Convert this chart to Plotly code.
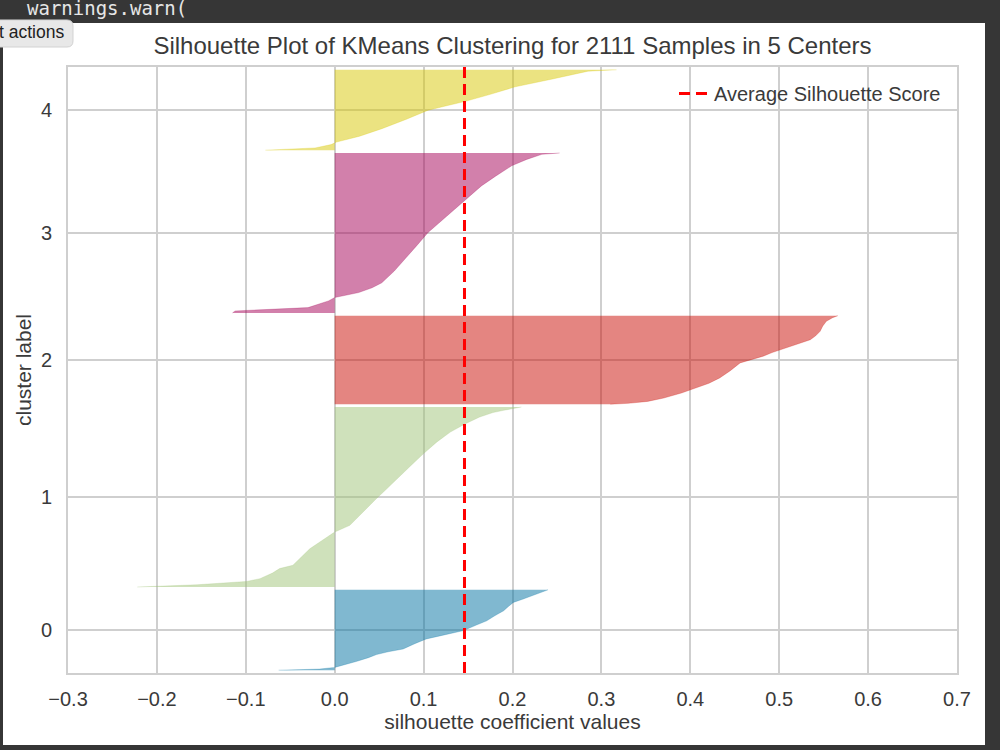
import plotly.graph_objects as go

# ---------------- data ----------------
cluster_labels = ["0", "1", "2", "3", "4"]
cluster_sizes = [288, 645, 317, 573, 288]
cluster_colors = ["#0272a2", "#9fc377", "#ca0b03", "#a50258", "#d7c703"]

# silhouette profile of each cluster: rank within the sorted cluster -> coefficient
c0_rank = [0, 4, 10, 20, 32, 45, 56, 66, 76, 95, 112, 122, 132, 142, 160, 177, 195, 213, 230, 243, 255, 267, 280, 288]
c0_val = [-0.063, -0.017, 0.0, 0.012, 0.025, 0.038, 0.047, 0.060, 0.077, 0.090, 0.103, 0.117, 0.130, 0.145, 0.158, 0.171, 0.180, 0.190, 0.196, 0.201, 0.212, 0.223, 0.233, 0.240]

c1_rank = [0, 8, 20, 30, 50, 66, 78, 110, 137, 165, 185, 197, 221, 270, 317, 350, 388, 430, 478, 520, 555, 585, 609, 625, 633, 645]
c1_val = [-0.222, -0.155, -0.099, -0.084, -0.070, -0.062, -0.047, -0.037, -0.028, -0.015, -0.005, 0.0, 0.017, 0.032, 0.047, 0.058, 0.070, 0.084, 0.100, 0.115, 0.130, 0.147, 0.163, 0.178, 0.190, 0.210]

c2_rank = [0, 3, 10, 22, 40, 58, 75, 94, 120, 148, 160, 172, 185, 195, 212, 231, 245, 261, 280, 297, 310, 317]
c2_val = [0.31, 0.33, 0.352, 0.370, 0.390, 0.407, 0.421, 0.433, 0.445, 0.456, 0.470, 0.482, 0.492, 0.501, 0.518, 0.535, 0.541, 0.546, 0.549, 0.553, 0.560, 0.566]

c3_rank = [0, 7, 19, 43, 55, 65, 73, 90, 108, 150, 192, 240, 288, 335, 383, 420, 455, 490, 527, 550, 568, 573]
c3_val = [-0.115, -0.112, -0.030, -0.007, 0.0, 0.014, 0.027, 0.042, 0.053, 0.067, 0.079, 0.092, 0.105, 0.122, 0.139, 0.152, 0.165, 0.181, 0.199, 0.216, 0.233, 0.253]

c4_rank = [0, 8, 20, 29, 50, 77, 110, 143, 160, 175, 200, 227, 255, 283, 288]
c4_val = [-0.078, -0.022, -0.004, 0.002, 0.028, 0.053, 0.080, 0.105, 0.127, 0.147, 0.175, 0.203, 0.245, 0.285, 0.317]

profiles_rank = [c0_rank, c1_rank, c2_rank, c3_rank, c4_rank]
profiles_val = [c0_val, c1_val, c2_val, c3_val, c4_val]

avg_score = 0.146
n_samples = 2111
x_ticks = [-0.3, -0.2, -0.1, 0.0, 0.1, 0.2, 0.3, 0.4, 0.5, 0.6, 0.7]

title_text = "Silhouette Plot of KMeans Clustering for 2111 Samples in 5 Centers"

# ---------------- layout geometry ----------------
W, H = 1000, 750
ML, MR, MT, MB = 68, 43, 67, 77
PW, PH = W - ML - MR, H - MT - MB


def px_x(px):
    return (px - ML) / PW


def px_y(py):
    return (H - MB - py) / PH


def hex_rgba(h, a):
    h = h.lstrip("#")
    return "rgba(%d,%d,%d,%s)" % (int(h[0:2], 16), int(h[2:4], 16), int(h[4:6], 16), a)


FONT = "Liberation Sans, Arial, sans-serif"
TXT = "#3a3a3a"
GRID = "#cfcfcf"

fig = go.Figure()

y_lower = 10
tick_pos = []
for lab, size, col, rk, vals in zip(cluster_labels, cluster_sizes, cluster_colors,
                                     profiles_rank, profiles_val):
    ys = [y_lower + r for r in rk]
    fig.add_trace(go.Scatter(
        x=vals, y=ys, mode="lines", fill="tozerox",
        fillcolor=hex_rgba(col, 0.5),
        line=dict(color=hex_rgba(col, 0.5), width=0.5),
        showlegend=False, hoverinfo="skip", name="cluster " + lab,
    ))
    tick_pos.append(y_lower + 0.5 * size)
    y_lower += size + 10

y_max = n_samples + (len(cluster_sizes) + 1) * 10

fig.add_trace(go.Scatter(
    x=[avg_score, avg_score], y=[0, y_max], mode="lines",
    line=dict(color="#ff0000", width=3, dash="11px,6px"),
    name="Average Silhouette Score", showlegend=True,
))

# ---------------- notebook surroundings ----------------
shapes = [
    dict(type="rect", xref="paper", yref="paper",
         x0=px_x(3), x1=px_x(985), y0=px_y(745), y1=px_y(23),
         fillcolor="#ffffff", line=dict(width=0), layer="below"),
]
bx0, bx1, by0, by1, r = -6, 73, 20, 47, 6
path = ("M %f,%f L %f,%f Q %f,%f %f,%f L %f,%f Q %f,%f %f,%f L %f,%f Q %f,%f %f,%f "
        "L %f,%f Q %f,%f %f,%f Z") % (
    px_x(bx0 + r), px_y(by0), px_x(bx1 - r), px_y(by0),
    px_x(bx1), px_y(by0), px_x(bx1), px_y(by0 + r),
    px_x(bx1), px_y(by1 - r),
    px_x(bx1), px_y(by1), px_x(bx1 - r), px_y(by1),
    px_x(bx0 + r), px_y(by1),
    px_x(bx0), px_y(by1), px_x(bx0), px_y(by1 - r),
    px_x(bx0), px_y(by0 + r),
    px_x(bx0), px_y(by0), px_x(bx0 + r), px_y(by0),
)
shapes.append(dict(type="path", xref="paper", yref="paper", path=path,
                   fillcolor="#e8e8e8", line=dict(color="#d2d2d2", width=1), layer="above"))

annotations = [
    dict(text="warnings.warn(", xref="paper", yref="paper",
         x=px_x(25), y=px_y(8), xanchor="left", yanchor="middle", showarrow=False,
         font=dict(family="DejaVu Sans Mono, monospace", size=19, color="#e6e6e6")),
    dict(text="t actions", xref="paper", yref="paper",
         x=px_x(66), y=px_y(32), xanchor="right", yanchor="middle", showarrow=False,
         font=dict(family=FONT, size=17.5, color="#222222")),
]

fig.update_layout(
    width=W, height=H,
    margin=dict(l=ML, r=MR, t=MT, b=MB),
    paper_bgcolor="#363636",
    plot_bgcolor="#ffffff",
    font=dict(family=FONT, color=TXT, size=20),
    title=dict(text=title_text, x=512.5 / W, xanchor="center",
               y=1 - 46 / H, yanchor="middle", yref="container",
               font=dict(family=FONT, size=24, color=TXT)),
    shapes=shapes,
    annotations=annotations,
    showlegend=True,
    legend=dict(x=px_x(946), xanchor="right", y=px_y(74), yanchor="top",
                bgcolor="rgba(255,255,255,0)", borderwidth=0,
                font=dict(family=FONT, size=20, color=TXT)),
    xaxis=dict(range=[-0.3, 0.7], tickvals=x_ticks, tickformat=".1f",
               showgrid=True, gridcolor=GRID, gridwidth=1.5,
               zeroline=False, showline=True, mirror=True,
               linecolor=GRID, linewidth=2,
               ticks="outside", ticklen=7, tickcolor="rgba(0,0,0,0)",
               tickfont=dict(size=20, color=TXT),
               title=dict(text="silhouette coefficient values", standoff=4,
                          font=dict(size=21, color=TXT))),
    yaxis=dict(range=[0, y_max], tickvals=tick_pos, ticktext=cluster_labels,
               showgrid=True, gridcolor=GRID, gridwidth=1.5,
               zeroline=False, showline=True, mirror=True,
               linecolor=GRID, linewidth=2,
               ticks="outside", ticklen=10, tickcolor="rgba(0,0,0,0)",
               tickfont=dict(size=20, color=TXT),
               title=dict(text="cluster label", standoff=4,
                          font=dict(size=21, color=TXT))),
)

fig.write_html("out.html")
